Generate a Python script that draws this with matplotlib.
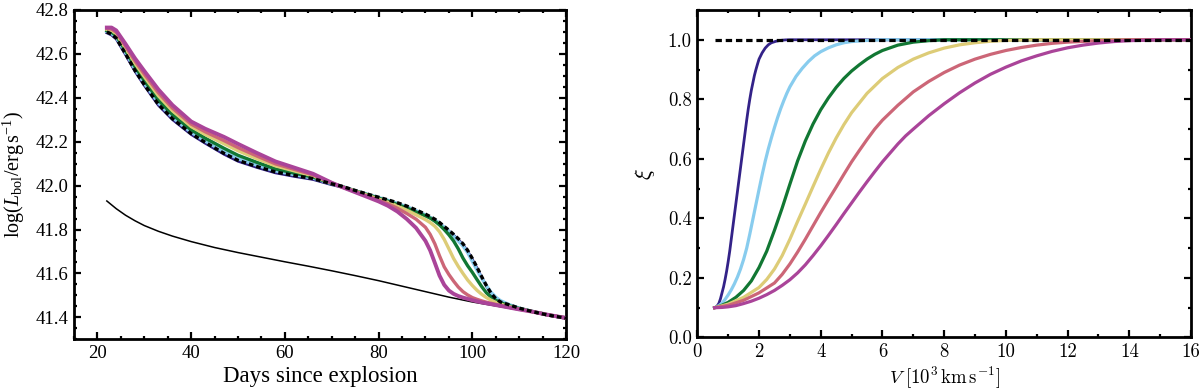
import matplotlib
matplotlib.use("Agg")
import matplotlib.pyplot as plt
from matplotlib.ticker import MultipleLocator, FormatStrFormatter

plt.rcParams['mathtext.fontset'] = 'custom'
plt.rcParams['mathtext.rm'] = 'Liberation Serif'
plt.rcParams['mathtext.it'] = 'Liberation Serif:italic'
plt.rcParams['mathtext.bf'] = 'Liberation Serif:bold'

# ---------------- data: left panel (light curves) ----------------
t_days = [22, 23, 24, 26, 28, 30, 33, 36, 40, 43, 47, 50, 54, 58, 62, 66, 70, 72,
          75, 78, 80, 82, 84, 86, 88, 90, 91, 92, 93, 94, 95, 96, 97, 98, 99, 100,
          101, 102, 103, 104, 105, 106, 108, 110, 113, 116, 120]

L_dashed = [42.700, 42.690, 42.672, 42.600, 42.525, 42.460, 42.370, 42.305, 42.237, 42.197,
            42.147, 42.115, 42.087, 42.062, 42.046, 42.032, 42.008, 41.998,
            41.978, 41.959, 41.947, 41.935, 41.922, 41.907, 41.889, 41.870, 41.859, 41.847,
            41.832, 41.814, 41.797, 41.778, 41.758, 41.735, 41.705, 41.668, 41.628, 41.585,
            41.545, 41.510, 41.485, 41.470, 41.456, 41.442, 41.425, 41.411, 41.396]

L_blue = [42.696, 42.686, 42.668, 42.596, 42.521, 42.456, 42.366, 42.301, 42.233, 42.193,
          42.143, 42.111, 42.083, 42.058, 42.042, 42.028, 42.004, 41.994,
          41.974, 41.955, 41.943, 41.931, 41.918, 41.903, 41.885, 41.866, 41.855, 41.843,
          41.828, 41.810, 41.793, 41.774, 41.754, 41.731, 41.701, 41.664, 41.624, 41.582,
          41.542, 41.508, 41.483, 41.468, 41.455, 41.441, 41.424, 41.410, 41.395]

L_cyan = [42.702, 42.693, 42.676, 42.605, 42.531, 42.466, 42.377, 42.311, 42.243, 42.203,
          42.155, 42.123, 42.093, 42.067, 42.050, 42.034, 42.009, 41.998,
          41.977, 41.958, 41.946, 41.933, 41.919, 41.904, 41.886, 41.866, 41.855, 41.843,
          41.828, 41.810, 41.791, 41.770, 41.748, 41.725, 41.695, 41.655, 41.615, 41.578,
          41.545, 41.514, 41.492, 41.476, 41.457, 41.442, 41.426, 41.412, 41.397]

L_green = [42.706, 42.699, 42.683, 42.614, 42.542, 42.479, 42.390, 42.324, 42.254, 42.216,
           42.170, 42.138, 42.106, 42.076, 42.057, 42.039, 42.010, 41.997,
           41.976, 41.956, 41.943, 41.929, 41.914, 41.898, 41.880, 41.862, 41.852, 41.838,
           41.821, 41.800, 41.776, 41.748, 41.712, 41.670, 41.635, 41.605, 41.572, 41.540,
           41.512, 41.492, 41.478, 41.467, 41.452, 41.440, 41.426, 41.412, 41.397]

L_sand = [42.712, 42.707, 42.692, 42.626, 42.557, 42.496, 42.409, 42.341, 42.269, 42.233,
          42.191, 42.159, 42.123, 42.090, 42.067, 42.045, 42.011, 41.996,
          41.975, 41.953, 41.939, 41.924, 41.907, 41.888, 41.867, 41.845, 41.832, 41.815,
          41.790, 41.755, 41.712, 41.668, 41.632, 41.600, 41.570, 41.545, 41.523, 41.505,
          41.490, 41.478, 41.468, 41.460, 41.448, 41.438, 41.425, 41.412, 41.397]

L_rose = [42.716, 42.713, 42.699, 42.635, 42.568, 42.508, 42.423, 42.353, 42.280, 42.245,
          42.205, 42.173, 42.135, 42.099, 42.074, 42.049, 42.012, 41.996,
          41.972, 41.949, 41.934, 41.917, 41.897, 41.873, 41.847, 41.810, 41.778, 41.735,
          41.680, 41.630, 41.595, 41.565, 41.538, 41.517, 41.502, 41.490, 41.482, 41.475,
          41.469, 41.464, 41.459, 41.454, 41.445, 41.437, 41.425, 41.412, 41.397]

L_purple = [42.720, 42.720, 42.707, 42.645, 42.580, 42.522, 42.438, 42.367, 42.292, 42.259,
            42.222, 42.190, 42.149, 42.110, 42.082, 42.054, 42.013, 41.995,
            41.970, 41.945, 41.928, 41.908, 41.882, 41.848, 41.807, 41.748, 41.705, 41.648,
            41.590, 41.548, 41.522, 41.507, 41.497, 41.490, 41.484, 41.478, 41.473, 41.468,
            41.464, 41.460, 41.456, 41.452, 41.444, 41.436, 41.425, 41.412, 41.397]

t_thin = [22, 24, 26, 28, 30, 33, 36, 40, 45, 50, 55, 60, 65, 70, 75, 80, 85, 90,
          95, 100, 105, 110, 115, 120]
L_thin = [41.930, 41.895, 41.865, 41.840, 41.818, 41.792, 41.770, 41.745, 41.718, 41.695,
          41.674, 41.653, 41.633, 41.612, 41.590, 41.567, 41.542, 41.517, 41.492, 41.470,
          41.452, 41.434, 41.416, 41.398]

# ---------------- data: right panel (xi vs V) ----------------
V_blue = [0.56, 0.6, 0.65, 0.7, 0.75, 0.8, 0.85, 0.9, 0.95, 1.0, 1.05, 1.1, 1.15, 1.2,
          1.25, 1.3, 1.35, 1.4, 1.45, 1.5, 1.55, 1.6, 1.65, 1.7, 1.75, 1.8, 1.85, 1.9,
          1.95, 2.0, 2.1, 2.2, 2.3, 2.4, 2.55, 2.7, 2.85, 3.0, 16.0]
xi_blue = [0.10, 0.102, 0.107, 0.115, 0.13, 0.15, 0.17, 0.195, 0.223, 0.255, 0.29, 0.33,
           0.37, 0.41, 0.45, 0.49, 0.53, 0.57, 0.61, 0.65, 0.69, 0.73, 0.767, 0.80, 0.83,
           0.855, 0.88, 0.90, 0.918, 0.935, 0.956, 0.972, 0.983, 0.99, 0.995, 0.998,
           0.9995, 1.0, 1.0]

V_cyan = [0.56, 0.7, 0.8, 0.9, 1.0, 1.1, 1.2, 1.3, 1.4, 1.5, 1.6, 1.7, 1.8, 1.9, 2.0,
          2.1, 2.2, 2.3, 2.4, 2.5, 2.6, 2.7, 2.8, 2.9, 3.0, 3.2, 3.4, 3.6, 3.8, 4.0,
          4.25, 4.5, 4.75, 5.0, 5.5, 6.0, 16.0]
xi_cyan = [0.10, 0.107, 0.115, 0.128, 0.143, 0.16, 0.18, 0.203, 0.23, 0.262, 0.30, 0.347,
           0.397, 0.447, 0.497, 0.546, 0.592, 0.633, 0.67, 0.705, 0.738, 0.768, 0.795,
           0.82, 0.842, 0.877, 0.904, 0.927, 0.946, 0.96, 0.973, 0.983, 0.99, 0.994,
           0.998, 1.0, 1.0]

V_green = [0.56, 0.75, 1.0, 1.25, 1.5, 1.75, 2.0, 2.25, 2.5, 2.75, 3.0, 3.25, 3.5, 3.75,
           4.0, 4.25, 4.5, 4.75, 5.0, 5.25, 5.5, 5.75, 6.0, 6.5, 7.0, 7.5, 8.0, 16.0]
xi_green = [0.10, 0.106, 0.118, 0.135, 0.158, 0.19, 0.235, 0.29, 0.36, 0.435, 0.515,
            0.593, 0.66, 0.717, 0.765, 0.805, 0.84, 0.87, 0.895, 0.916, 0.935, 0.951,
            0.964, 0.982, 0.992, 0.997, 1.0, 1.0]

V_sand = [0.56, 1.0, 1.5, 2.0, 2.25, 2.5, 2.75, 3.0, 3.25, 3.5, 3.75, 4.0, 4.25, 4.5,
          4.75, 5.0, 5.5, 6.0, 6.5, 7.0, 7.5, 8.0, 8.5, 9.0, 9.5, 10.0, 11.0, 16.0]
xi_sand = [0.10, 0.112, 0.135, 0.168, 0.195, 0.23, 0.275, 0.33, 0.39, 0.448, 0.507,
           0.565, 0.62, 0.67, 0.715, 0.755, 0.82, 0.87, 0.907, 0.935, 0.956, 0.972,
           0.983, 0.99, 0.995, 0.998, 1.0, 1.0]

V_rose = [0.56, 1.0, 1.5, 2.0, 2.5, 2.75, 3.0, 3.25, 3.5, 3.75, 4.0, 4.25, 4.5, 4.75,
          5.0, 5.25, 5.5, 5.75, 6.0, 6.5, 7.0, 7.5, 8.0, 8.5, 9.0, 9.5, 10.0, 10.5,
          11.0, 11.5, 12.0, 13.0, 14.0, 16.0]
xi_rose = [0.10, 0.108, 0.125, 0.15, 0.183, 0.212, 0.247, 0.287, 0.33, 0.375, 0.42,
           0.463, 0.505, 0.548, 0.59, 0.628, 0.665, 0.70, 0.73, 0.78, 0.825, 0.86, 0.89,
           0.915, 0.935, 0.951, 0.964, 0.974, 0.982, 0.988, 0.992, 0.997, 1.0, 1.0]

V_purple = [0.56, 0.8, 1.0, 1.25, 1.5, 1.75, 2.0, 2.25, 2.5, 2.75, 3.0, 3.25, 3.5, 3.75,
            4.0, 4.25, 4.5, 4.75, 5.0, 5.25, 5.5, 5.75, 6.0, 6.25, 6.5, 6.75, 7.0, 7.5,
            8.0, 8.5, 9.0, 9.5, 10.0, 10.5, 11.0, 11.5, 12.0, 12.5, 13.0, 13.5, 14.0,
            15.0, 16.0]
xi_purple = [0.10, 0.101, 0.103, 0.107, 0.114, 0.122, 0.132, 0.144, 0.158, 0.175, 0.194,
             0.217, 0.244, 0.275, 0.308, 0.343, 0.379, 0.416, 0.452, 0.488, 0.523, 0.557,
             0.59, 0.62, 0.65, 0.677, 0.70, 0.745, 0.785, 0.822, 0.855, 0.884, 0.908,
             0.929, 0.946, 0.961, 0.973, 0.982, 0.989, 0.994, 0.997, 1.0, 1.0]

V_ref = [0.56, 16.0]
xi_ref = [1.0, 1.0]

C_BLUE, C_CYAN, C_GREEN = '#332288', '#88CCEE', '#117733'
C_SAND, C_ROSE, C_PURPLE = '#DDCC77', '#CC6677', '#AA4499'

fig = plt.figure(figsize=(12, 3.89), dpi=100)
axL = fig.add_axes([0.0617, 0.1278, 0.41, 0.8465])
axR = fig.add_axes([0.5811, 0.1324, 0.4114, 0.8419])

# ---- left panel ----
axL.plot(t_thin, L_thin, color='black', lw=1.1, zorder=2)
axL.plot(t_days, L_blue, color=C_BLUE, lw=2.0, zorder=3)
axL.plot(t_days, L_cyan, color=C_CYAN, lw=2.4, zorder=3)
axL.plot(t_days, L_green, color=C_GREEN, lw=2.4, zorder=3)
axL.plot(t_days, L_sand, color=C_SAND, lw=2.4, zorder=3)
axL.plot(t_days, L_rose, color=C_ROSE, lw=2.4, zorder=3)
axL.plot(t_days, L_purple, color=C_PURPLE, lw=2.8, zorder=3)
axL.plot(t_days, L_dashed, color='black', lw=2.4, ls=(0, (1.4, 0.9)), zorder=4)

axL.set_xlim(15, 120)
axL.set_ylim(41.3, 42.8)
axL.xaxis.set_major_locator(MultipleLocator(20))
axL.xaxis.set_minor_locator(MultipleLocator(5))
axL.yaxis.set_major_locator(MultipleLocator(0.2))
axL.yaxis.set_minor_locator(MultipleLocator(0.05))
axL.yaxis.set_major_formatter(FormatStrFormatter('%.1f'))
axL.xaxis.set_major_formatter(FormatStrFormatter('%d'))
axL.tick_params(which='both', direction='in', top=True, right=True, width=1.6,
                labelsize=13.5, labelfontfamily='Liberation Serif', pad=4)
axL.tick_params(which='major', length=5)
axL.tick_params(which='minor', length=2.5)
for s in axL.spines.values():
    s.set_linewidth(2.0)
axL.set_xlabel('Days since explosion', fontsize=16.5, family='Liberation Serif', labelpad=3)
axL.set_ylabel(r'$\log(L_{\rm bol}/{\rm erg\,s^{-1}})$', fontsize=14.5, labelpad=6)

# ---- right panel ----
axR.plot(V_blue, xi_blue, color=C_BLUE, lw=2.0, zorder=3)
axR.plot(V_cyan, xi_cyan, color=C_CYAN, lw=2.3, zorder=3)
axR.plot(V_green, xi_green, color=C_GREEN, lw=2.3, zorder=3)
axR.plot(V_sand, xi_sand, color=C_SAND, lw=2.3, zorder=3)
axR.plot(V_rose, xi_rose, color=C_ROSE, lw=2.3, zorder=3)
axR.plot(V_purple, xi_purple, color=C_PURPLE, lw=2.3, zorder=3)
axR.plot(V_ref, xi_ref, color='black', lw=2.3, ls=(0, (2.0, 1.2)), zorder=4)

axR.set_xlim(0, 16)
axR.set_ylim(0, 1.1)
axR.xaxis.set_major_locator(MultipleLocator(2))
axR.xaxis.set_minor_locator(MultipleLocator(1))
axR.yaxis.set_major_locator(MultipleLocator(0.2))
axR.yaxis.set_minor_locator(MultipleLocator(0.1))
axR.yaxis.set_major_formatter(FormatStrFormatter('%.1f'))
axR.xaxis.set_major_formatter(FormatStrFormatter('%d'))
axR.tick_params(which='both', direction='in', top=True, right=True, width=1.6,
                labelsize=13.5, labelfontfamily='cmr10', pad=4)
axR.tick_params(which='major', length=5)
axR.tick_params(which='minor', length=2.5)
for s in axR.spines.values():
    s.set_linewidth(2.0)
axR.set_xlabel(r'$V\ [10^3\,{\rm km\,s^{-1}}]$', fontsize=13.5, math_fontfamily='cm')
axR.xaxis.set_label_coords(0.5, -0.082)
axR.set_ylabel(r'$\xi$', fontsize=16, math_fontfamily='cm', labelpad=8)

fig.savefig('out.png', dpi=100)
